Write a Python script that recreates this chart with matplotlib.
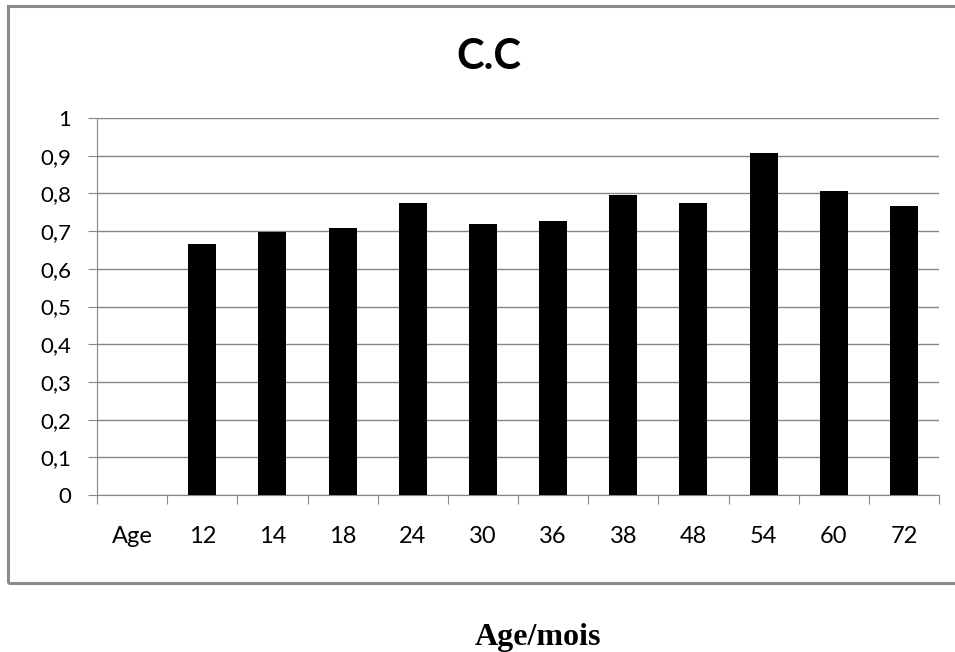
import matplotlib
matplotlib.use("Agg")
import matplotlib.pyplot as plt
from matplotlib.patches import Rectangle
from matplotlib.ticker import FixedLocator, FuncFormatter

# ===== data =====
categories = ["Age", "12", "14", "18", "24", "30", "36", "38", "48", "54", "60", "72"]
values = [None, 0.666, 0.698, 0.708, 0.775, 0.719, 0.728, 0.796, 0.775, 0.907, 0.806, 0.767]
y_ticks = [0, 0.1, 0.2, 0.3, 0.4, 0.5, 0.6, 0.7, 0.8, 0.9, 1.0]

grid_grey = "#868686"
sans = ["Lato", "DejaVu Sans"]

fig = plt.figure(figsize=(9.55, 6.52), dpi=100)
ax = fig.add_axes([0.1016, 0.2408, 0.8817, 0.5782])

xs = [i for i, v in enumerate(values) if v is not None]
hs = [v for v in values if v is not None]
ax.bar(xs, hs, width=0.4, color="black", zorder=3)

ax.set_xlim(-0.5, len(categories) - 0.5)
ax.set_ylim(0, 1)

# y axis
ax.set_yticks(y_ticks)
ax.yaxis.set_major_formatter(FuncFormatter(lambda v, p: ("%g" % round(v, 1)).replace(".", ",")))
ax.tick_params(axis="y", length=6.5, width=0.8, color=grid_grey, pad=12,
               labelsize=16)
ax.grid(axis="y", color=grid_grey, linewidth=1.0, zorder=0)

# x axis: labels centred, tick marks at category boundaries
ax.set_xticks(range(len(categories)))
ax.set_xticklabels(categories)
ax.xaxis.set_minor_locator(FixedLocator([i - 0.5 for i in range(len(categories) + 1)]))
ax.tick_params(axis="x", which="major", length=0, pad=22, labelsize=17)
ax.tick_params(axis="x", which="minor", length=6.5, width=0.8, color=grid_grey)

for lbl in ax.get_xticklabels() + ax.get_yticklabels():
    lbl.set_family(sans)

for side in ["top", "right"]:
    ax.spines[side].set_visible(False)
ax.spines["left"].set_color(grid_grey)
ax.spines["bottom"].set_color(grid_grey)

# title
fig.text(489 / 955, 1 - 57 / 652, "C.C", fontsize=30, fontweight="bold",
         family=sans, ha="center", va="center")

# chart border
fig.patches.append(Rectangle((0.008, 0.106), 1.1, 0.885, transform=fig.transFigure,
                             fill=False, edgecolor="#8a8a8a", linewidth=2.2))

# axis title below the frame
fig.text(538 / 955, 14 / 652, "Age/mois", fontsize=23, fontweight="bold",
         family=["Liberation Serif", "DejaVu Serif"], ha="center", va="center")

fig.savefig("out.png", dpi=100)
